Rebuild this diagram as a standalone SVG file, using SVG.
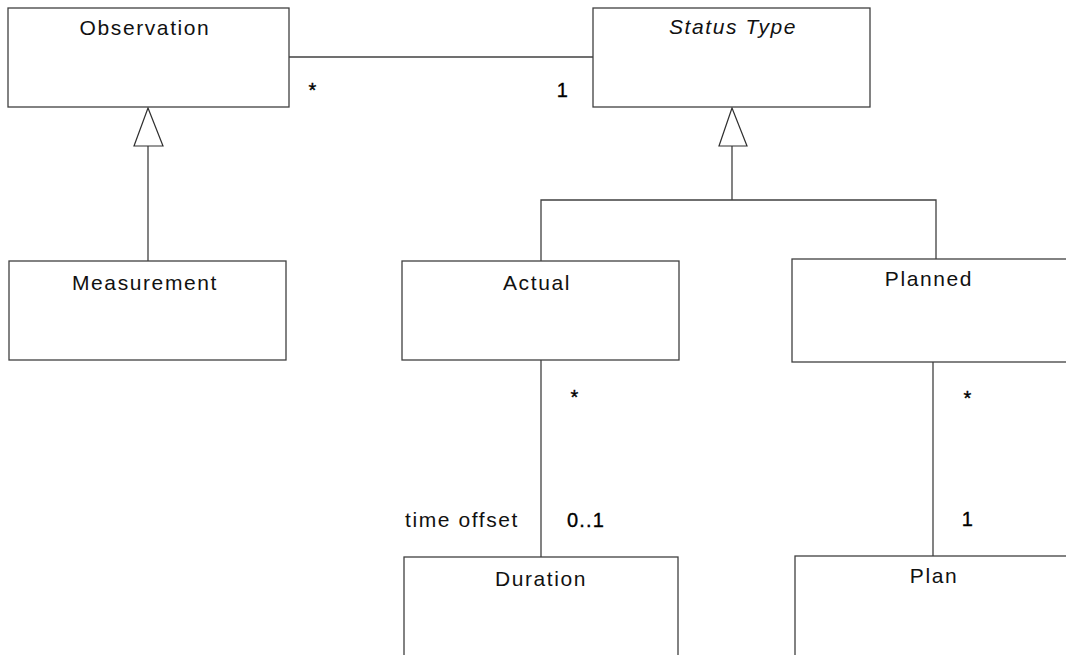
<svg xmlns="http://www.w3.org/2000/svg" width="1066" height="655" viewBox="0 0 1066 655">
<style>
.box{fill:#fff;stroke:#404040;stroke-width:1.3}
.ln{fill:none;stroke:#404040;stroke-width:1.3}
.tri{fill:#fff;stroke:#303030;stroke-width:1.2}
.name{font-family:"Liberation Sans",Arial,sans-serif;font-size:21px;letter-spacing:1.6px;fill:#111;text-anchor:middle}
.lab{font-family:"Liberation Sans",Arial,sans-serif;font-size:20px;letter-spacing:1.2px;fill:#000;stroke:#000;stroke-width:0.35;text-anchor:middle}
</style>
<rect width="1066" height="655" fill="#fff"/>
<g id="connectors">
<line class="ln" x1="289" y1="57" x2="593" y2="57"/>
<line class="ln" x1="148" y1="146" x2="148" y2="261"/>
<polygon class="tri" points="148,108 134,146 163,146"/>
<line class="ln" x1="732" y1="146" x2="732" y2="200"/>
<polygon class="tri" points="732,108 719,146 747,146"/>
<polyline class="ln" points="541,261 541,200 936,200 936,259"/>
<line class="ln" x1="541" y1="360" x2="541" y2="557"/>
<line class="ln" x1="933" y1="362" x2="933" y2="556"/>
<text class="lab" x="313" y="97">*</text>
<text class="lab" x="563" y="97">1</text>
<text class="lab" x="575" y="404">*</text>
<text class="lab" x="968" y="405">*</text>
<text class="lab" x="586" y="527">0..1</text>
<text class="lab" x="968" y="526">1</text>
<text class="name" x="462" y="527">time offset</text>
</g>
<g id="observation">
<rect class="box" x="8" y="8" width="281" height="99"/>
<text class="name" x="145" y="35">Observation</text>
</g>
<g id="status-type">
<rect class="box" x="593" y="8" width="277" height="99"/>
<text class="name" x="733" y="34" font-style="italic">Status Type</text>
</g>
<g id="measurement">
<rect class="box" x="9" y="261" width="277" height="99"/>
<text class="name" x="145" y="290">Measurement</text>
</g>
<g id="actual">
<rect class="box" x="402" y="261" width="277" height="99"/>
<text class="name" x="537" y="290">Actual</text>
</g>
<g id="planned">
<rect class="box" x="792" y="259" width="290" height="103"/>
<text class="name" x="929" y="286">Planned</text>
</g>
<g id="duration">
<rect class="box" x="404" y="557" width="274" height="120"/>
<text class="name" x="541" y="586">Duration</text>
</g>
<g id="plan">
<rect class="box" x="795" y="556" width="290" height="120"/>
<text class="name" x="934" y="583">Plan</text>
</g>
</svg>
